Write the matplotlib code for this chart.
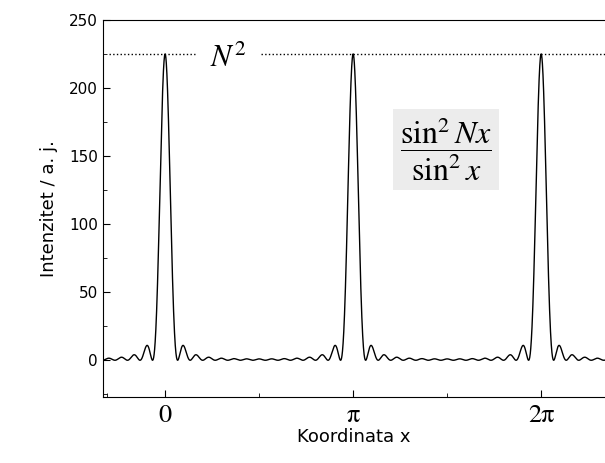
import numpy as np
import matplotlib.pyplot as plt

plt.rcParams["mathtext.fontset"] = "stix"

# grating intensity sin^2(Nx)/sin^2(x), N read from the N^2 = 225 line
N = 15
x_lim = [-1.04, 7.35]
y_lim = [-27, 250]
y_ticks = [0, 50, 100, 150, 200, 250]
x_ticks = [0, np.pi, 2 * np.pi]
x_labels = ["0", "π", "2π"]

x = np.linspace(x_lim[0], x_lim[1], 6000)
s = np.sin(x)
s[np.abs(s) < 1e-9] = 1e-9
y = np.sin(N * x) ** 2 / s ** 2

fig = plt.figure(figsize=(6.05, 4.63), dpi=100)
ax = fig.add_axes([0.170, 0.1425, 0.83, 0.8145])
ax.plot(x, y, color="black", lw=1.0)
ax.set_xlim(x_lim)
ax.set_ylim(y_lim)

# dotted N^2 line with gap for the label
ax.hlines(N ** 2, x_lim[0] + 0.1, 0.5, colors="black", linestyles=":", lw=1)
ax.hlines(N ** 2, 1.6, x_lim[1], colors="black", linestyles=":", lw=1)
ax.text(1.05, N ** 2 - 3, r"$N^2$", fontsize=22, ha="center", va="center")

ax.text(4.7, 155, r"$\dfrac{\mathrm{sin}^2\, Nx}{\mathrm{sin}^2\, x}$", fontsize=23,
        ha="center", va="center",
        bbox=dict(facecolor="#ececec", edgecolor="none", pad=5))

ax.set_xticks(x_ticks)
ax.set_xticks([-np.pi / 2 + 0.6, np.pi / 2, 3 * np.pi / 2], minor=True)
ax.set_yticks(y_ticks)
ax.set_yticks(np.arange(-25, 250, 50), minor=True)
ax.tick_params(direction="in", length=5)
ax.tick_params(axis="y", labelsize=11)
ax.tick_params(axis="x", pad=5)
ax.tick_params(which="minor", direction="in", length=3)
ax.set_xticklabels(x_labels, family="STIXGeneral", fontsize=19)
ax.spines["right"].set_visible(False)
ax.set_xlabel("Koordinata x", fontsize=13, labelpad=0)
ax.set_ylabel("Intenzitet / a. j.", fontsize=13, labelpad=8)
fig.savefig("out.png", dpi=100)
